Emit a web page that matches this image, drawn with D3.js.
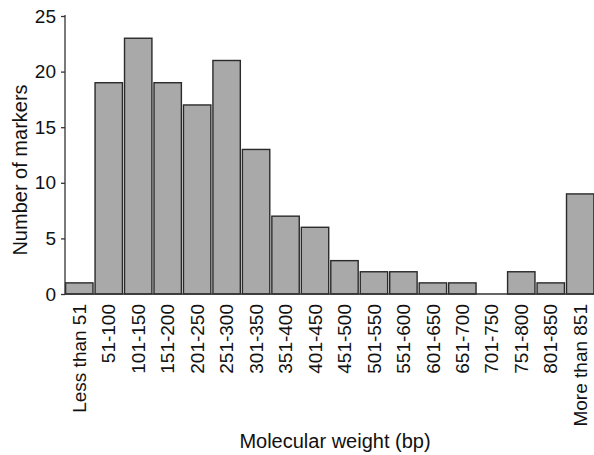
<!DOCTYPE html>
<html>
<head>
<meta charset="utf-8">
<script src="https://cdn.jsdelivr.net/npm/d3@7"></script>
<style>
html,body{margin:0;padding:0;background:#fff;}
svg{display:block;font-family:"Liberation Sans",Arial,Helvetica,sans-serif;}
</style>
</head>
<body>
<svg id="chart" width="594" height="455"></svg>
<script>
const categories = ["Less than 51","51-100","101-150","151-200","201-250","251-300","301-350","351-400","401-450","451-500","501-550","551-600","601-650","651-700","701-750","751-800","801-850","More than 851"];
const counts = [1,19,23,19,17,21,13,7,6,3,2,2,1,1,0,2,1,9];
const yTicks = [0,5,10,15,20,25];
const xTitle = "Molecular weight (bp)";
const yTitle = "Number of markers";

const svg = d3.select("#chart");
const x0 = 65, x1 = 594.5, yTop = 16, yBot = 294;

const x = d3.scaleBand().domain(categories).range([x0, x1]).paddingInner(0.07).paddingOuter(0.02);
const y = d3.scaleLinear().domain([0,25]).range([yBot, yTop]);

// bars
svg.append("g").selectAll("rect").data(categories).join("rect")
  .attr("x", d => x(d))
  .attr("width", x.bandwidth())
  .attr("y", (d,i) => y(counts[i]))
  .attr("height", (d,i) => y(0) - y(counts[i]))
  .attr("fill", "#a9a9a9")
  .attr("stroke", "#2a2a2a")
  .attr("stroke-width", 1.4);

// y axis
const yAxis = svg.append("g").attr("transform", `translate(${x0},0)`)
  .call(d3.axisLeft(y).tickValues(yTicks).tickSize(4).tickPadding(5).tickSizeOuter(0));
yAxis.select(".domain").attr("stroke", "#333").attr("stroke-width", 1.3).attr("d", `M0,${yTop-1}V${yBot}`);
yAxis.selectAll(".tick line").attr("stroke", "#333").attr("stroke-width", 1.3);
yAxis.selectAll(".tick text").attr("font-size", 19).attr("fill", "#111").attr("font-family", "Liberation Sans, Arial, sans-serif");

// x baseline
const xAxis = svg.append("g").attr("transform", `translate(0,${yBot})`)
  .call(d3.axisBottom(x).tickSize(0).tickPadding(0));
xAxis.select(".domain").attr("stroke", "#333").attr("stroke-width", 1.3).attr("d", `M${x0},0H${x1}`);
xAxis.selectAll(".tick text")
  .attr("font-size", 19).attr("fill", "#111").attr("font-family", "Liberation Sans, Arial, sans-serif")
  .attr("text-anchor", "end")
  .attr("dy", "0.35em")
  .attr("transform", "translate(0,10) rotate(-90)")
  .attr("x", 0).attr("y", 0);

// titles
svg.append("text").attr("x", 335).attr("y", 448).attr("text-anchor", "middle")
  .attr("font-size", 20).attr("fill", "#111").text(xTitle);
svg.append("text").attr("transform", "translate(27,170) rotate(-90)").attr("text-anchor", "middle")
  .attr("font-size", 20).attr("fill", "#111").text(yTitle);
</script>
</body>
</html>
